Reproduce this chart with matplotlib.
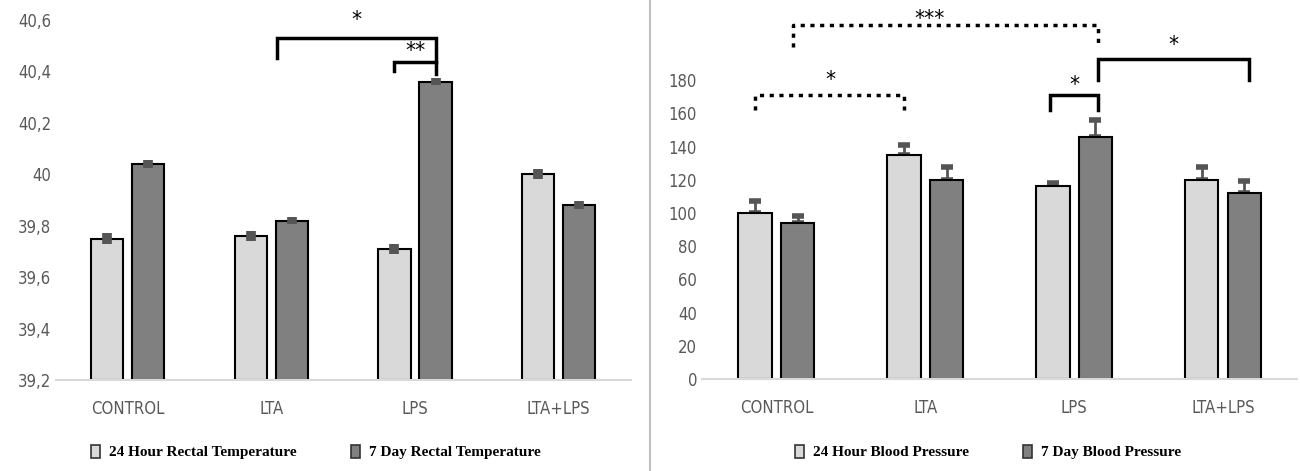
"""Rectal temperature and blood pressure bar charts with significance brackets."""

import matplotlib

matplotlib.use("Agg")
import matplotlib.pyplot as plt  # noqa: E402
from matplotlib.lines import Line2D  # noqa: E402
from matplotlib.patches import Patch  # noqa: E402

plt.rcParams["font.family"] = ["DejaVu Sans"]
plt.rcParams["font.stretch"] = "condensed"

groups = ["CONTROL", "LTA", "LPS", "LTA+LPS"]

temp_24h = [39.75, 39.76, 39.71, 40.00]
temp_24h_err = [0.02, 0.02, 0.02, 0.02]
temp_7d = [40.04, 39.82, 40.36, 39.88]
temp_7d_err = [0.015, 0.015, 0.015, 0.015]
temp_ticks = [39.2, 39.4, 39.6, 39.8, 40.0, 40.2, 40.4, 40.6]
temp_ticklabels = ["39,2", "39,4", "39,6", "39,8", "40", "40,2", "40,4", "40,6"]

bp_24h = [100, 135, 116, 120]
bp_24h_err = [7, 6, 2, 8]
bp_7d = [94, 120, 146, 112]
bp_7d_err = [4, 8, 10, 7]
bp_ticks = [0, 20, 40, 60, 80, 100, 120, 140, 160, 180]

LIGHT = "#d9d9d9"
DARK = "#808080"
TXT = "#595959"
OFF = 0.143
W = 0.225


def style_axis(ax):
    for s in ["top", "right", "left"]:
        ax.spines[s].set_visible(False)
    ax.spines["bottom"].set_color("#d9d9d9")
    ax.spines["bottom"].set_linewidth(1.5)
    ax.tick_params(length=0, labelsize=12, labelcolor=TXT)
    ax.tick_params(axis="x", pad=14)
    ax.set_xticks(range(len(groups)))
    ax.set_xticklabels(groups)
    ax.set_xlim(-0.5, 3.5)


def bracket(ax, x1, x2, y, y1, y2, star, ls="-", sx=None, sy=None, fs=16):
    ax.plot([x1, x1, x2, x2], [y1, y, y, y2], color="black", lw=2.5,
            ls=ls, clip_on=False, solid_joinstyle="miter")
    ax.text((x1 + x2) / 2 if sx is None else sx, sy, star, ha="center",
            va="center", fontsize=fs, clip_on=False)


fig = plt.figure(figsize=(13, 4.71), dpi=100)
ax1 = fig.add_axes([0.043, 0.193, 0.442, 0.765])
ax2 = fig.add_axes([0.54, 0.195, 0.458, 0.776])

x = list(range(len(groups)))
xl = [i - OFF for i in x]
xd = [i + OFF for i in x]

# left: rectal temperature
base = temp_ticks[0]
ax1.bar(xl, [v - base for v in temp_24h], W, bottom=base, color=LIGHT,
        edgecolor="black", linewidth=1.5, zorder=2)
ax1.bar(xd, [v - base for v in temp_7d], W, bottom=base, color=DARK,
        edgecolor="black", linewidth=1.5, zorder=2)
ax1.errorbar(xl, temp_24h, yerr=temp_24h_err, fmt="none", ecolor="#555555",
             elinewidth=7, capsize=0, zorder=3)
ax1.errorbar(xd, temp_7d, yerr=temp_7d_err, fmt="none", ecolor="#555555",
             elinewidth=7, capsize=0, zorder=3)
ax1.set_ylim(39.2, 40.6)
ax1.set_yticks(temp_ticks)
ax1.set_yticklabels(temp_ticklabels)
style_axis(ax1)
bracket(ax1, 1.04, xd[2], 40.53, 40.45, 40.435, "*", sy=40.6)
bracket(ax1, xl[2], xd[2], 40.435, 40.40, 40.39, "**", sy=40.48)

# right: blood pressure
ax2.bar(xl, bp_24h, W, color=LIGHT, edgecolor="black", linewidth=1.5, zorder=2)
ax2.bar(xd, bp_7d, W, color=DARK, edgecolor="black", linewidth=1.5, zorder=2)
ax2.errorbar(xl, bp_24h, yerr=[[0] * 4, bp_24h_err], fmt="none",
             ecolor="#555555", elinewidth=2, capsize=4, capthick=4, zorder=1)
ax2.errorbar(xd, bp_7d, yerr=[[0] * 4, bp_7d_err], fmt="none",
             ecolor="#555555", elinewidth=2, capsize=4, capthick=4, zorder=1)
ax2.set_ylim(0, 220)
ax2.set_yticks(bp_ticks)
style_axis(ax2)
bracket(ax2, xd[0] - 0.03, xd[2] + 0.02, 213, 200, 200, "***", ls=(0, (1.2, 1.6)),
        sx=1.03, sy=217)
bracket(ax2, xd[2] + 0.02, xd[3] + 0.03, 193, 180, 180, "*", sy=201)
bracket(ax2, xl[0], xl[1], 171, 162, 162, "*", ls=(0, (1.2, 1.6)), sx=0.36, sy=180)
bracket(ax2, xl[2] - 0.02, xd[2] + 0.02, 171, 162, 162, "*", sy=177)

# legends below each panel
leg_font = {"family": "Liberation Serif", "weight": "bold", "size": 11,
            "stretch": "normal"}
for labels, cx in [
    (["24 Hour Rectal Temperature", "7 Day Rectal Temperature"], 0.243),
    (["24 Hour Blood Pressure", "7 Day Blood Pressure"], 0.76),
]:
    handles = [Patch(facecolor=LIGHT, edgecolor="#333333", linewidth=1.2),
               Patch(facecolor=DARK, edgecolor="#333333", linewidth=1.2)]
    fig.legend(handles, labels, loc="center", bbox_to_anchor=(cx, 0.04),
               ncol=2, frameon=False, prop=leg_font, handlelength=0.6,
               handleheight=0.9, columnspacing=3.5, handletextpad=0.6)

fig.add_artist(Line2D([0.5, 0.5], [0.0, 1.0], color="#bfbfbf", lw=1.5))

fig.savefig("out.png", dpi=100)
plt.close(fig)
